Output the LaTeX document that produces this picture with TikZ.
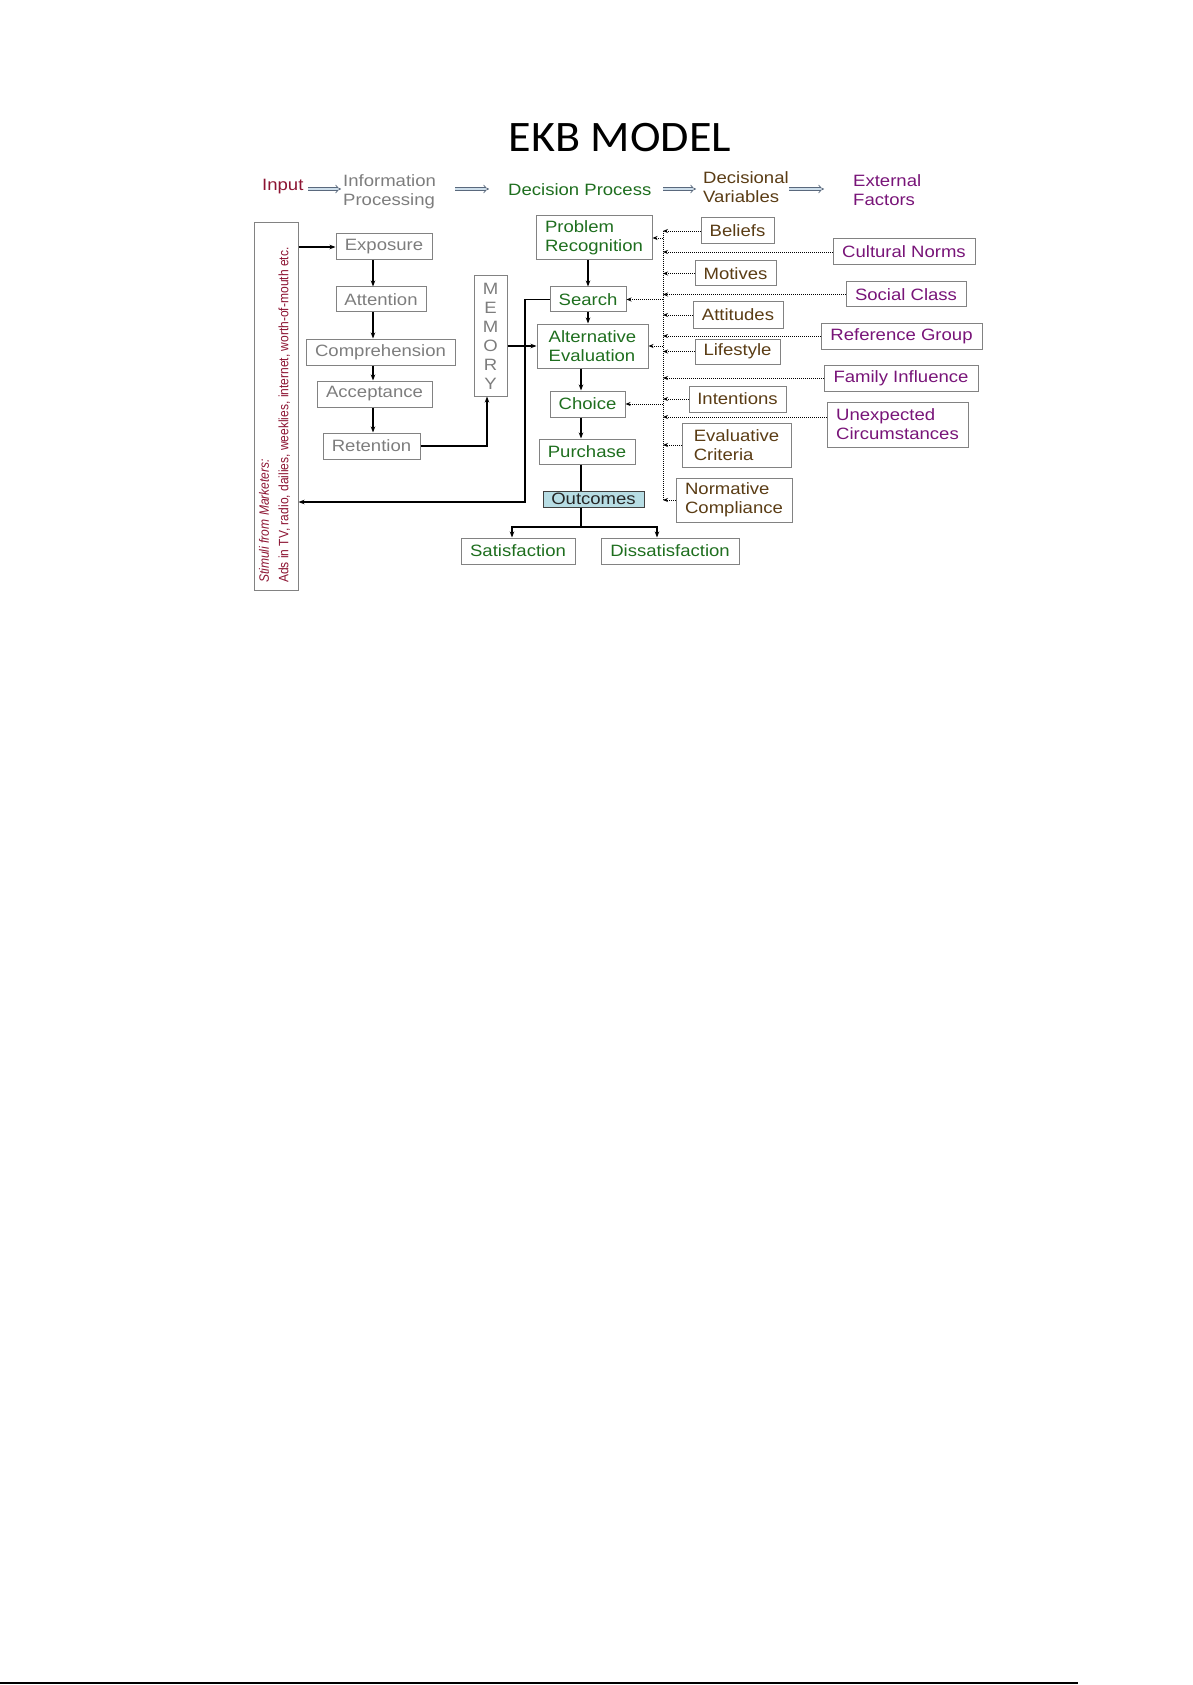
\documentclass[tikz,border=0pt]{standalone}
\usepackage{fontspec}
\setmainfont{Liberation Sans}[FakeStretch=1.13]
\newfontfamily\titlefont{Carlito}[FakeStretch=1.06]
\newfontfamily\rotfont{Liberation Sans}[FakeStretch=0.885]
\usetikzlibrary{arrows.meta}
\definecolor{ipgrey}{RGB}{125,125,125}
\definecolor{bordgrey}{RGB}{130,130,130}
\definecolor{dpgreen}{RGB}{30,110,30}
\definecolor{dvbrown}{RGB}{90,60,20}
\definecolor{efpurple}{RGB}{120,20,120}
\definecolor{inred}{RGB}{140,20,50}
\definecolor{outblue}{RGB}{183,221,228}
\definecolor{arrline}{RGB}{90,105,125}
\definecolor{arrfill}{RGB}{205,222,235}
\begin{document}
\begin{tikzpicture}[x=1pt,y=-1pt,
  every node/.style={inner sep=0pt, font=\fontsize{16.4}{19}\selectfont},
  bx/.style 2 args={draw=bordgrey, line width=1pt, minimum width=#1pt, minimum height=#2pt, align=left},
  ipbox/.style 2 args={bx={#1}{#2}, text=ipgrey},
  dpbox/.style 2 args={bx={#1}{#2}, text=dpgreen},
  dvbox/.style 2 args={bx={#1}{#2}, text=dvbrown},
  efbox/.style 2 args={bx={#1}{#2}, text=efpurple},
  solar/.style={line width=1.2pt, -{Stealth[length=6pt,width=4.5pt]}},
  solln/.style={line width=1.2pt},
  dotar/.style={line width=0.9pt, dash pattern=on 1pt off 1pt, -{Stealth[length=5pt,width=4pt]}},
  dotln/.style={line width=0.9pt, dash pattern=on 1pt off 1pt},
  hdarrow/.style={draw=arrline, line width=0.7pt, double=arrfill, double distance=2.2pt, -{Implies}},
]
\useasboundingbox (0,0) rectangle (1192,1685);

% title and header
\node[font=\titlefont\fontsize{43.5}{50}\selectfont, anchor=base] (title) at (620,152) {EKB MODEL};
\node[anchor=base west, text=inred] (hin) at (262,191) {Input};
\node[anchor=base west, align=left, text=ipgrey] (hip) at (343,206) {Information\\Processing};
\node[anchor=base west, text=dpgreen] (hdp) at (508,196) {Decision Process};
\node[anchor=base west, align=left, text=dvbrown] (hdv) at (703,203) {Decisional\\Variables};
\node[anchor=base west, align=left, text=efpurple] (hef) at (853,206) {External\\Factors};
\coordinate (a1s) at (308,189); \coordinate (a1e) at (341,189);
\coordinate (a2s) at (455,189); \coordinate (a2e) at (489,189);
\coordinate (a3s) at (663,189); \coordinate (a3e) at (696,189);
\coordinate (a4s) at (789,189); \coordinate (a4e) at (824,189);
\draw[hdarrow] (a1s) -- (a1e);
\draw[hdarrow] (a2s) -- (a2e);
\draw[hdarrow] (a3s) -- (a3e);
\draw[hdarrow] (a4s) -- (a4e);

% stimuli
\node[draw=bordgrey, line width=1pt, minimum width=44pt, minimum height=367pt] (stim) at (276,406.5) {};
\node[rotate=90, anchor=west, align=left, text=inred, font=\rotfont\fontsize{13.6}{19.5}\selectfont] (stimtxt) at (274.5,583)
  {\textit{Stimuli from Marketers:}\\Ads in TV, radio, dailies, weeklies, internet, worth-of-mouth etc.};

% information processing
\node[ipbox={96}{26}] (expo) at (384,247) {Exposure};
\node[ipbox={90}{25}] (atte) at (381,299.5) {Attention};
\node[ipbox={149}{26}] (comp) at (380.5,352) {Comprehension};
\node[ipbox={115}{26}] (acce) at (374.5,394) {Acceptance};
\node[ipbox={97}{26}] (rete) at (371.5,446) {Retention};
\node[ipbox={33}{120}, align=center] (memo) at (490.5,336) {M\\E\\M\\O\\R\\Y};

% decision process
\node[dpbox={116}{44}] (prob) at (594,238) {Problem\\Recognition};
\node[dpbox={76}{25}] (sear) at (588,299.5) {Search};
\node[dpbox={111}{44}] (alte) at (592.5,346) {Alternative\\Evaluation};
\node[dpbox={75}{26}] (choi) at (587.5,404) {Choice};
\node[dpbox={96}{25}] (purc) at (587,451.5) {Purchase};
\node[draw=black!75, line width=1pt, fill=outblue, minimum width=101pt, minimum height=16pt, text=black!85] (outc) at (593.5,499) {Outcomes};
\node[dpbox={114}{26}] (sati) at (518,551) {Satisfaction};
\node[dpbox={138}{26}] (diss) at (670,551) {Dissatisfaction};

% decisional variables
\node[dvbox={73}{26}] (beli) at (737.5,231) {Beliefs};
\node[dvbox={81}{25}] (moti) at (735.5,273.5) {Motives};
\node[dvbox={90}{26}] (atti) at (738,315) {Attitudes};
\node[dvbox={85}{25}] (life) at (737.5,351.5) {Lifestyle};
\node[dvbox={97}{26}] (inte) at (737.5,399) {Intentions};
\node[dvbox={109}{44}] (eval) at (736.5,445) {Evaluative\\Criteria};
\node[dvbox={116}{44}] (norm) at (734,500) {Normative\\Compliance};

% external factors
\node[efbox={142}{26}] (cult) at (904,252) {Cultural Norms};
\node[efbox={120}{25}] (soci) at (906,294.5) {Social Class};
\node[efbox={161}{26}] (refe) at (901.5,336) {Reference Group};
\node[efbox={154}{26}] (fami) at (901,378) {Family Influence};
\node[efbox={141}{45}] (unex) at (897.5,424.5) {Unexpected\\Circumstances};

% dotted influence lines
\coordinate (vl) at (663,0);
\draw[dotln] (vl |- beli.west) -- (vl |- norm.west);
\foreach \n in {beli,cult,moti,soci,atti,refe,life,fami,inte,eval,norm}
  \draw[dotar] (\n.west) -- (\n.west -| vl);
\draw[dotar] ([yshift=7.5pt]unex.west) -- ([yshift=7.5pt]unex.west -| vl);
\foreach \n in {prob,sear,alte,choi}
  \draw[dotar] (vl |- \n.east) -- (\n.east);

% solid connectors
\coordinate (ax) at (373,0);
\draw[solar] (stim.east |- expo.west) -- (expo.west);
\draw[solar] (expo.south -| ax) -- (atte.north -| ax);
\draw[solar] (atte.south -| ax) -- (comp.north -| ax);
\draw[solar] (comp.south -| ax) -- (acce.north -| ax);
\draw[solar] (acce.south -| ax) -- (rete.north -| ax);
\draw[solar] (rete.east) -| ([xshift=-3.5pt]memo.south);
\draw[solar] (memo.east |- alte.west) -- (alte.west);
\coordinate (fb) at (525,502);
\draw[solar, line width=1.6pt] (sear.west) -| (fb) -- (fb -| stim.east);
\draw[solar] (prob.south -| sear.north) -- (sear.north);
\draw[solar] (sear.south) -- (sear.south |- alte.north);
\coordinate (cx) at (581,0);
\draw[solar] (alte.south -| cx) -- (choi.north -| cx);
\draw[solar] (choi.south -| cx) -- (purc.north -| cx);
\draw[solln] (purc.south -| cx) -- (outc.north -| cx);
\coordinate (br) at (581,527);
\draw[solln] (outc.south -| cx) -- (br);
\draw[solar] (br) -| ([xshift=-6pt]sati.north);
\draw[solar] (br) -| ([xshift=-13pt]diss.north);

% page rule
\coordinate (rl) at (0,1683); \coordinate (rr) at (1078,1683);
\draw[line width=1.5pt] (rl) -- (rr);
\end{tikzpicture}
\end{document}
